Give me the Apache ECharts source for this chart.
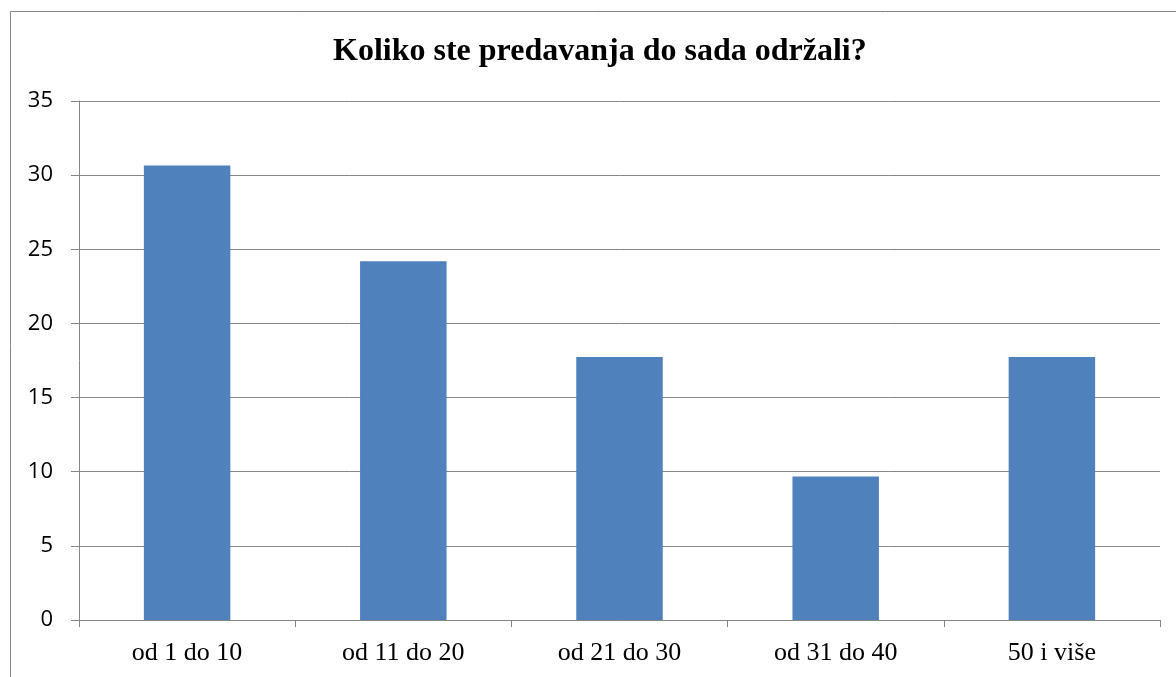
<!DOCTYPE html>
<html>
<head>
<meta charset="utf-8">
<script src="https://cdn.jsdelivr.net/npm/echarts@6/dist/echarts.min.js"></script>
<style>
html, body { margin: 0; padding: 0; background: #fff; }
#main { width: 1176px; height: 677px; }
</style>
</head>
<body>
<div id="main"></div>
<script>
// podaci s grafikona
var kategorije = ['od 1 do 10', 'od 11 do 20', 'od 21 do 30', 'od 31 do 40', '50 i više'];
var vrijednosti = [30.65, 24.19, 17.74, 9.68, 17.74];
var naslov = 'Koliko ste predavanja do sada održali?';

var myChart = echarts.init(document.getElementById('main'));
var option = {
    backgroundColor: '#fff',
    animation: false,
    title: {
        text: naslov,
        left: 328,
        top: 31,
        textStyle: {
            fontFamily: 'Liberation Serif',
            fontWeight: 'bold',
            fontSize: 32,
            color: '#000'
        }
    },
    graphic: [{
        type: 'rect',
        shape: { x: 10.5, y: 11.5, width: 1200, height: 700 },
        style: { fill: 'none', stroke: '#868686', lineWidth: 1 },
        silent: true
    }],
    grid: {
        left: 79,
        right: 16,
        top: 101,
        bottom: 57
    },
    xAxis: {
        type: 'category',
        data: kategorije,
        axisLine: { lineStyle: { color: '#868686', width: 1 } },
        axisTick: { show: true, length: 7, inside: false, lineStyle: { color: '#868686' } },
        axisLabel: {
            fontFamily: 'Liberation Serif',
            fontSize: 26,
            color: '#000',
            margin: 20
        }
    },
    yAxis: {
        type: 'value',
        min: 0,
        max: 35,
        interval: 5,
        axisLine: { show: true, lineStyle: { color: '#868686', width: 1 } },
        axisTick: { show: true, length: 8, lineStyle: { color: '#868686' } },
        splitLine: { lineStyle: { color: '#868686', width: 1 } },
        axisLabel: {
            fontFamily: 'Open Sans',
            fontSize: 22,
            color: '#000',
            margin: 26
        }
    },
    series: [{
        type: 'bar',
        data: vrijednosti,
        barWidth: '40%',
        itemStyle: { color: '#4F81BD' }
    }]
};
myChart.setOption(option);
</script>
</body>
</html>
